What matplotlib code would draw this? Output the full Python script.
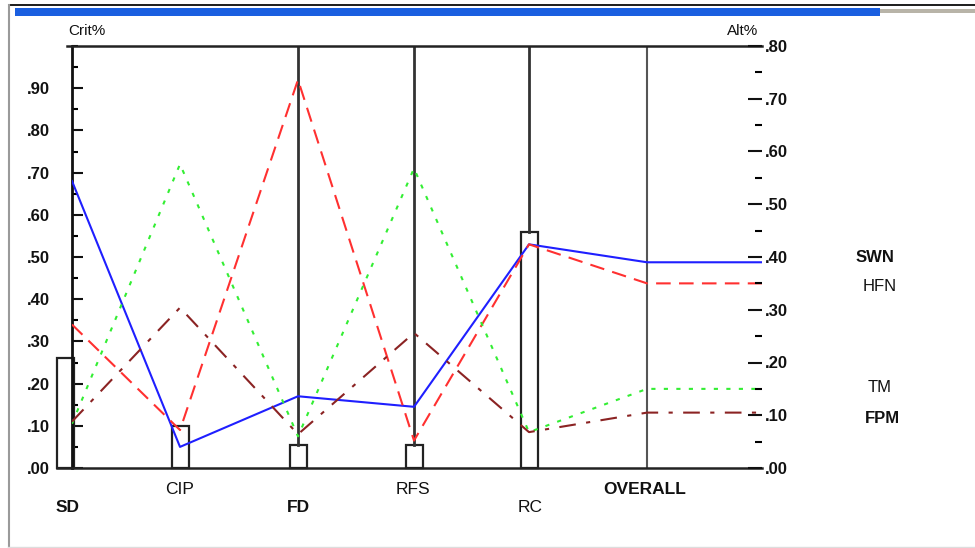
import numpy as np
import matplotlib.pyplot as plt
from matplotlib.patches import Rectangle
from matplotlib.ticker import MultipleLocator, FuncFormatter

# Criteria and their weights (Crit%, left scale)
criteria = ['SD', 'CIP', 'FD', 'RFS', 'RC']
crit_weight = [0.26, 0.10, 0.055, 0.055, 0.56]

# Alternative scores on each criterion (left scale)
alternatives = ['SWN', 'HFN', 'TM', 'FPM']
swn = [0.68, 0.05, 0.17, 0.145, 0.53]
hfn = [0.34, 0.09, 0.92, 0.065, 0.53]
tm = [0.105, 0.72, 0.075, 0.71, 0.085]
fpm = [0.11, 0.38, 0.08, 0.32, 0.085]

# Overall result per alternative (Alt%, right scale)
overall = [0.39, 0.35, 0.15, 0.105]

CRIT_MAX = 1.0
ALT_MAX = 0.8

W, H = 975, 548


def fx(px):
    return px / W


def fy(py):
    return 1 - py / H


fig = plt.figure(figsize=(W / 100, H / 100), dpi=100)
plt.rcParams['font.family'] = ['Liberation Sans', 'DejaVu Sans']

# window chrome
fig.add_artist(Rectangle((fx(8), fy(6)), fx(975) - fx(8), 2 / H, transform=fig.transFigure,
                         color='#222222', lw=0))
fig.add_artist(Rectangle((fx(15), fy(16)), fx(880) - fx(15), 8 / H, transform=fig.transFigure,
                         color='#1a5fe0', lw=0))
fig.add_artist(Rectangle((fx(880), fy(13)), fx(975) - fx(880), 4 / H, transform=fig.transFigure,
                         color='#b8b4a8', lw=0))
fig.add_artist(plt.Line2D([fx(8.5), fx(8.5)], [fy(5), fy(548)], transform=fig.transFigure,
                          color='#9a9a9a', lw=1.5))
fig.add_artist(plt.Line2D([fx(8), fx(975)], [fy(546.5), fy(546.5)], transform=fig.transFigure,
                          color='#dddddd', lw=1))

ax = fig.add_axes([fx(72), fy(468), (762 - 72) / W, (468 - 46) / H])
ax.set_xlim(0, 690)
ax.set_ylim(0, CRIT_MAX)

xpos = [0, 108, 226, 342, 457]
x_overall = 575
x_end = 690

for s in ['top', 'right', 'bottom']:
    ax.spines[s].set_visible(False)
ax.spines['left'].set_linewidth(2)
ax.spines['left'].set_color('#111111')
ax.set_xticks([])
ax.yaxis.set_minor_locator(MultipleLocator(0.05))
ax.set_yticks(np.arange(0, 0.95, 0.1))
ax.tick_params(axis='y', which='major', direction='in', length=8, width=1.5, pad=16,
               labelsize=12, colors='#111111')
ax.tick_params(axis='y', which='minor', direction='in', length=4, width=1.5)
ax.yaxis.set_major_formatter(FuncFormatter(lambda v, p: ('%.2f' % v)[1:]))
for t in ax.get_yticklabels():
    t.set_fontweight('bold')

# right axis (Alt%)
ax2 = ax.twinx()
ax2.set_ylim(0, ALT_MAX)
for s in ax2.spines.values():
    s.set_visible(False)
ax2.yaxis.set_major_locator(MultipleLocator(0.1))
ax2.yaxis.set_minor_locator(MultipleLocator(0.05))
ax2.tick_params(axis='y', which='major', direction='in', length=10, width=1.5, pad=2,
                labelsize=12, colors='#111111')
ax2.tick_params(axis='y', which='minor', direction='in', length=5, width=1.5)
ax2.yaxis.set_major_formatter(FuncFormatter(lambda v, p: ('%.2f' % v)[1:]))
for t in ax2.get_yticklabels():
    t.set_fontweight('bold')

# criterion weight boxes
bar_x = list(xpos)
bar_x[0] = -7
ax.bar(bar_x, crit_weight, width=17, facecolor='white', edgecolor='#222222', lw=1.6,
       clip_on=False, zorder=2)

# frame lines
ax.plot([-5, x_end], [CRIT_MAX, CRIT_MAX], color='#222222', lw=1.8, clip_on=False, zorder=3)
ax.plot([-15, x_end], [0, 0], color='#222222', lw=1.8, clip_on=False, zorder=3)
for x, w in zip(xpos[2:], crit_weight[2:]):
    ax.plot([x, x], [w, CRIT_MAX], color='#333333', lw=2, zorder=2)
ax.plot([x_overall, x_overall], [0, CRIT_MAX], color='#555555', lw=1.5, zorder=2)

# alternative lines
series = [swn, hfn, tm, fpm]
colors = ['#1f1fff', '#ff3030', '#33ee33', '#8b2323']
styles = [dict(ls='-'), dict(dashes=(7, 4)), dict(dashes=(2, 4)), dict(dashes=(8, 5, 2, 5))]
line_x = xpos + [x_overall, x_end]
for vals, ov, c, st in zip(series, overall, colors, styles):
    y = vals + [ov / ALT_MAX * CRIT_MAX] * 2
    ax.plot(line_x, y, color=c, lw=1.5, zorder=4, **st)

# alternative names at right
label_y = [0.498, 0.43, 0.19, 0.118]
label_x = [803, 808, 808, 810]
label_w = ['bold', 'normal', 'normal', 'bold']
for name, lx, ly, lw_ in zip(alternatives, label_x, label_y, label_w):
    ax.text(lx, ly, name, ha='center', va='center', fontsize=12, fontweight=lw_,
            color='#111111', clip_on=False)

# criterion names under the axis
name_x = [68, 180, 298, 413, 530, 645]
name_y = [508, 490, 508, 490, 508, 490]
name_w = ['bold', 'normal', 'bold', 'normal', 'normal', 'bold']
for name, px, py, w in zip(criteria + ['OVERALL'], name_x, name_y, name_w):
    fig.text(fx(px), fy(py), name, ha='center', va='center', fontsize=12.5, fontweight=w,
             color='#111111')

fig.text(fx(68), fy(31), 'Crit%', ha='left', va='center', fontsize=11, color='#111111')
fig.text(fx(758), fy(31), 'Alt%', ha='right', va='center', fontsize=11, color='#111111')

fig.savefig('out.png', dpi=100)
